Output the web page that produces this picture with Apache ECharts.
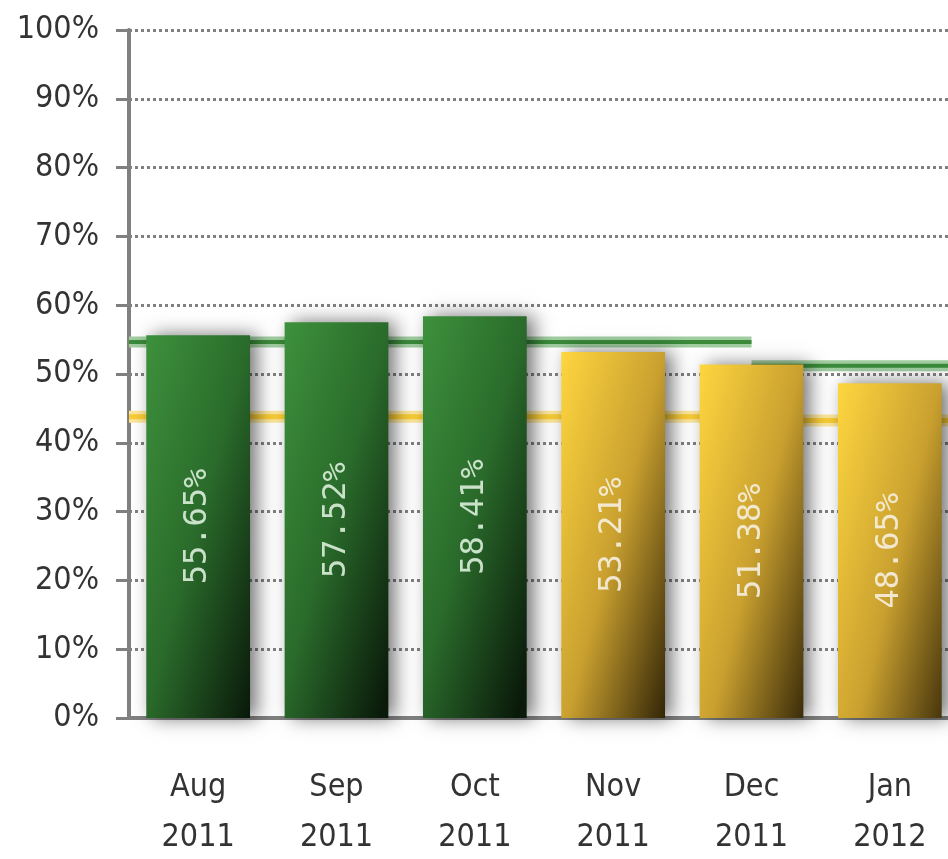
<!DOCTYPE html>
<html>
<head>
<meta charset="utf-8">
<title>Monthly rate</title>
<script src="https://cdn.jsdelivr.net/npm/echarts@6/dist/echarts.min.js"></script>
<style>
    html, body { margin: 0; padding: 0; background: #fff; }
    #main { width: 948px; height: 859px; }
</style>
</head>
<body>
<div id="main"></div>
<script>
// 月份
var months = ['Aug\n2011', 'Sep\n2011', 'Oct\n2011', 'Nov\n2011', 'Dec\n2011', 'Jan\n2012'];
// 绿色 (前三个月) 和 黄色 (后三个月) 的柱子
var greenValues = [55.65, 57.52, 58.41, '-', '-', '-'];
var yellowValues = ['-', '-', '-', 53.21, 51.38, 48.65];
// 参考线，每月一个值
var greenTarget = [54.65, 54.65, 54.65, 54.65, 51.2, 51.2];
var yellowTarget = [43.8, 43.8, 43.8, 43.8, 43.25, 43.25];
// y 轴刻度
var yTicks = [0, 10, 20, 30, 40, 50, 60, 70, 80, 90, 100];

// 把每月的值变成分段的水平线 (值变化的地方在该月中间断开)
function segPoints(arr) {
    var pts = [[0, arr[0]]];
    for (var i = 1; i < arr.length; i++) {
        if (arr[i] !== arr[i - 1]) {
            pts.push([i + 0.5, arr[i - 1]]);
            pts.push([i + 0.5, '-']);
            pts.push([i + 0.5, arr[i]]);
        }
    }
    pts.push([arr.length, arr[arr.length - 1]]);
    return pts;
}

// 柱子渐变：左上亮，右下暗
function barFill(c0, c1, c2) {
    return new echarts.graphic.LinearGradient(0, 0, 1.86, 0.14, [
        {offset: 0, color: c0},
        {offset: 0.5, color: c1},
        {offset: 1, color: c2}
    ]);
}

var myChart = echarts.init(document.getElementById('main'));

var labelStyle = {
    show: true,
    position: 'inside',
    rotate: 90,
    fontFamily: 'DejaVu Sans Mono',
    fontSize: 32,
    formatter: function (p) { return p.value + '%'; }
};

var barShadow = {
    shadowColor: 'rgba(0, 0, 0, 0.55)',
    shadowBlur: 18,
    shadowOffsetX: 7,
    shadowOffsetY: 0
};

function refLine(data, color, width) {
    return {
        type: 'line',
        xAxisIndex: 1,
        symbol: 'none',
        z: 1,
        silent: true,
        connectNulls: false,
        lineStyle: {color: color, width: width, cap: 'butt'},
        data: data
    };
}

var option = {
    animation: false,
    grid: {
        left: 129,
        top: 30,
        bottom: 141,
        width: 830,
        outerBoundsMode: 'none'
    },
    xAxis: [
        {
            type: 'category',
            data: months,
            axisLine: {lineStyle: {color: '#808080', width: 4}},
            axisTick: {length: 22, lineStyle: {color: '#808080', width: 2}},
            axisLabel: {
                margin: 45,
                lineHeight: 50,
                color: '#333',
                fontFamily: 'DejaVu Sans Condensed',
                fontSize: 32
            }
        },
        {
            // 隐藏的数值轴，用来画参考线
            type: 'value',
            min: 0,
            max: months.length,
            show: false
        }
    ],
    yAxis: {
        type: 'value',
        min: yTicks[0],
        max: yTicks[yTicks.length - 1],
        interval: 10,
        axisLine: {show: true, lineStyle: {color: '#808080', width: 4}},
        axisTick: {show: true, length: 13, lineStyle: {color: '#808080', width: 3}},
        axisLabel: {
            margin: 30,
            color: '#333',
            fontFamily: 'DejaVu Sans Condensed',
            fontSize: 32,
            formatter: '{value}%'
        },
        splitLine: {lineStyle: {color: '#808080', width: 3, type: [3, 3]}}
    },
    series: [
        refLine(segPoints(greenTarget), '#a0cca0', 11),
        refLine(segPoints(greenTarget), '#3a8a3a', 4),
        refLine(segPoints(yellowTarget), '#fde69c', 12),
        refLine(segPoints(yellowTarget), '#f9cc36', 5),
        {
            name: 'green',
            type: 'bar',
            barWidth: '75%',
            barGap: '-100%',
            z: 3,
            itemStyle: Object.assign({color: barFill('#3d913c', '#2a6b2b', '#0a1a0a')}, barShadow),
            label: Object.assign({color: 'rgba(220, 238, 220, 0.9)'}, labelStyle),
            data: greenValues
        },
        {
            name: 'yellow',
            type: 'bar',
            barWidth: '75%',
            barGap: '-100%',
            z: 3,
            itemStyle: Object.assign({color: barFill('#fed63f', '#c9a02f', '#2a1e05')}, barShadow),
            label: Object.assign({color: 'rgba(245, 240, 225, 0.9)'}, labelStyle),
            data: yellowValues
        }
    ]
};

myChart.setOption(option);
</script>
</body>
</html>
